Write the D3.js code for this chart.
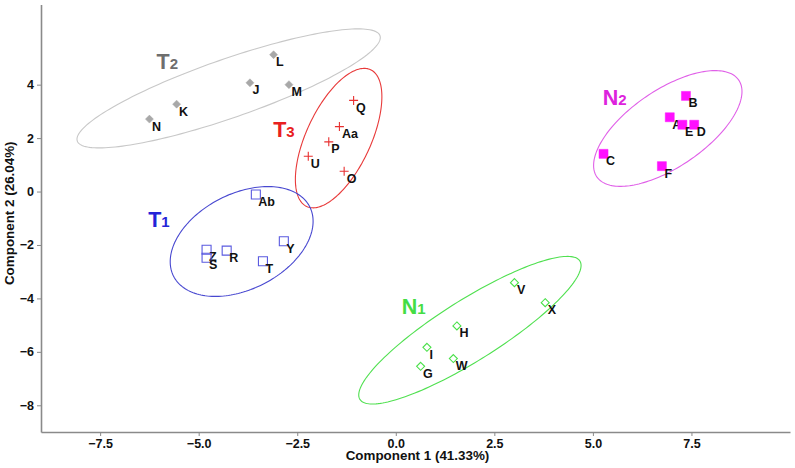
<!DOCTYPE html>
<html>
<head>
<meta charset="utf-8">
<script src="https://cdn.jsdelivr.net/npm/d3@7"></script>
<style>
    body { margin: 0; background: #fff; }
</style>
</head>
<body>
<div id="chart"></div>
<script>
// sample scores (component 1, component 2)
var pointNames = ['L', 'J', 'M', 'K', 'N',
                  'Q', 'Aa', 'P', 'U', 'O',
                  'Ab', 'Y', 'R', 'Z', 'S', 'T',
                  'B', 'A', 'E', 'D', 'C', 'F',
                  'V', 'X', 'H', 'I', 'W', 'G'];
var pointGroup = ['T2', 'T2', 'T2', 'T2', 'T2',
                  'T3', 'T3', 'T3', 'T3', 'T3',
                  'T1', 'T1', 'T1', 'T1', 'T1', 'T1',
                  'N2', 'N2', 'N2', 'N2', 'N2', 'N2',
                  'N1', 'N1', 'N1', 'N1', 'N1', 'N1'];
var pc1 = [-3.10, -3.70, -2.71, -5.56, -6.25,
           -1.07, -1.43, -1.70, -2.22, -1.31,
           -3.55, -2.84, -4.29, -4.80, -4.80, -3.37,
            7.36,  6.95,  7.27,  7.57,  5.27,  6.75,
            3.01,  3.79,  1.55,  0.79,  1.46,  0.63];
var pc2 = [ 5.12,  4.07,  4.00,  3.27,  2.71,
            3.41,  2.43,  1.86,  1.32,  0.76,
           -0.11, -1.86, -2.21, -2.18, -2.48, -2.61,
            3.58,  2.78,  2.50,  2.50,  1.41,  0.95,
           -3.41, -4.16, -5.03, -5.83, -6.25, -6.54];

// group ellipses: centre and two semi-axis vectors, in data units
var groups     = ['T2', 'T3', 'T1', 'N2', 'N1'];
var ellipseCx  = [-4.24, -1.45, -3.91,  6.90,  1.88];
var ellipseCy  = [ 3.86,  2.00, -1.87,  2.36, -5.19];
var ellipseU   = [[3.84, 1.97], [0.81, 2.56], [1.73, 1.29], [1.80, 1.81], [2.79, 2.59]];
var ellipseV   = [[0.24, -1.04], [0.74, -0.51], [0.54, -1.60], [0.55, -1.19], [0.41, -0.96]];

// where each group name sits, in data units
var groupLabelX = [-6.07, -3.11, -6.28, 5.25, 0.15];
var groupLabelY = [ 4.60,  2.05, -1.32, 3.24, -4.57];

var xTicks = [-7.5, -5.0, -2.5, 0.0, 2.5, 5.0, 7.5];
var yTicks = [-8, -6, -4, -2, 0, 2, 4];
var xDomain = [-9, 10];
var yDomain = [-9, 7];
var xTitle = 'Component 1 (41.33%)';
var yTitle = 'Component 2 (26.04%)';

// styles
var mainFont = '"Liberation Sans", Arial, Helvetica, sans-serif';
var axisColor = '#8a8a8a';
var groupStyle = {
    'T2': { stroke: '#c8c8c8', mark: '#a8a8a8', label: '#6e6e6e', shape: 'diamond', filled: true },
    'T3': { stroke: '#e83a3a', mark: '#e83030', label: '#e82020', shape: 'plus', filled: false },
    'T1': { stroke: '#4848d0', mark: '#5a5ae0', label: '#2424d8', shape: 'square', filled: false },
    'N2': { stroke: '#e060e8', mark: '#ff10ff', label: '#dd22dd', shape: 'square', filled: true },
    'N1': { stroke: '#50e050', mark: '#48e048', label: '#44dd44', shape: 'diamond', filled: false }
};

var fullWidth = 795;
var fullHeight = 468;
var plotLeft = 41;
var plotRight = 790;
var plotTop = 4.5;
var plotBottom = 432;

window.onload = function() {
    render();
};

function render() {
    var svg = d3.select('#chart').append('svg')
        .attr('width', fullWidth)
        .attr('height', fullHeight)
        .style('display', 'block');

    var x = d3.scaleLinear().domain(xDomain).range([plotLeft, plotRight]);
    var y = d3.scaleLinear().domain(yDomain).range([plotBottom, plotTop]);

    drawAxes(svg, x, y);
    drawEllipses(svg, x, y);
    drawPoints(svg, x, y);
    drawGroupLabels(svg, x, y);
}

function drawAxes(svg, x, y) {
    var xAxis = svg.append('g')
        .attr('transform', 'translate(0,' + plotBottom + ')')
        .call(d3.axisBottom(x).tickValues(xTicks).tickFormat(d3.format('.1f'))
            .tickSize(4).tickSizeOuter(0).tickPadding(3));

    var yAxis = svg.append('g')
        .attr('transform', 'translate(' + plotLeft + ',0)')
        .call(d3.axisLeft(y).tickValues(yTicks).tickFormat(d3.format('d'))
            .tickSize(4).tickSizeOuter(0).tickPadding(3));

    [xAxis, yAxis].forEach(function(ax) {
        ax.select('.domain').attr('stroke', axisColor).attr('stroke-width', 1.6);
        ax.selectAll('.tick line').attr('stroke', axisColor).attr('stroke-width', 1);
        ax.selectAll('.tick text')
            .style('font-family', mainFont)
            .style('font-size', '12.5px')
            .style('font-weight', 'bold')
            .attr('fill', '#111');
    });

    // axis titles
    svg.append('text')
        .attr('x', (plotLeft + plotRight) / 2 + 2)
        .attr('y', 459.5)
        .style('text-anchor', 'middle')
        .style('font-family', mainFont)
        .style('font-size', '13.4px')
        .style('font-weight', 'bold')
        .attr('fill', '#111')
        .text(xTitle);

    svg.append('text')
        .attr('transform', 'translate(14,' + ((plotTop + plotBottom) / 2 - 5) + ') rotate(-90)')
        .style('text-anchor', 'middle')
        .style('font-family', mainFont)
        .style('font-size', '13.4px')
        .style('font-weight', 'bold')
        .attr('fill', '#111')
        .text(yTitle);
}

function drawEllipses(svg, x, y) {
    var line = d3.line().curve(d3.curveLinearClosed);
    var steps = d3.range(0, 2 * Math.PI, Math.PI / 90);

    for (var i = 0; i < groups.length; i++) {
        var u = ellipseU[i];
        var v = ellipseV[i];
        var pts = steps.map(function(t) {
            var dx = u[0] * Math.cos(t) + v[0] * Math.sin(t);
            var dy = u[1] * Math.cos(t) + v[1] * Math.sin(t);
            return [x(ellipseCx[i] + dx), y(ellipseCy[i] + dy)];
        });
        svg.append('path')
            .attr('d', line(pts))
            .attr('fill', 'none')
            .attr('stroke', groupStyle[groups[i]].stroke)
            .attr('stroke-width', 1.1);
    }
}

function markerPath(shape) {
    if (shape === 'diamond') return 'M0,-4L4,0L0,4L-4,0Z';
    if (shape === 'square') return 'M-4.5,-4.5H4.5V4.5H-4.5Z';
    return 'M-4.5,0H4.5M0,-4.5V4.5';
}

function drawPoints(svg, x, y) {
    for (var i = 0; i < pointNames.length; i++) {
        var st = groupStyle[pointGroup[i]];
        var px = x(pc1[i]);
        var py = y(pc2[i]);

        svg.append('path')
            .attr('transform', 'translate(' + px + ',' + py + ')')
            .attr('d', markerPath(st.shape))
            .attr('fill', st.filled ? st.mark : 'none')
            .attr('stroke', st.mark)
            .attr('stroke-width', st.filled ? 0.5 : 1.1);

        svg.append('text')
            .attr('x', px + 2.5)
            .attr('y', py + 11.5)
            .style('font-family', mainFont)
            .style('font-size', '12.5px')
            .style('font-weight', 'bold')
            .attr('fill', '#111')
            .text(pointNames[i]);
    }
}

function drawGroupLabels(svg, x, y) {
    for (var i = 0; i < groups.length; i++) {
        var name = groups[i];
        var t = svg.append('text')
            .attr('x', x(groupLabelX[i]))
            .attr('y', y(groupLabelY[i]))
            .style('font-family', mainFont)
            .style('font-weight', 'bold')
            .attr('fill', groupStyle[name].label);
        t.append('tspan')
            .style('font-size', '21.5px')
            .text(name.charAt(0));
        t.append('tspan')
            .style('font-size', '15px')
            .text(name.slice(1));
    }
}
</script>
</body>
</html>
